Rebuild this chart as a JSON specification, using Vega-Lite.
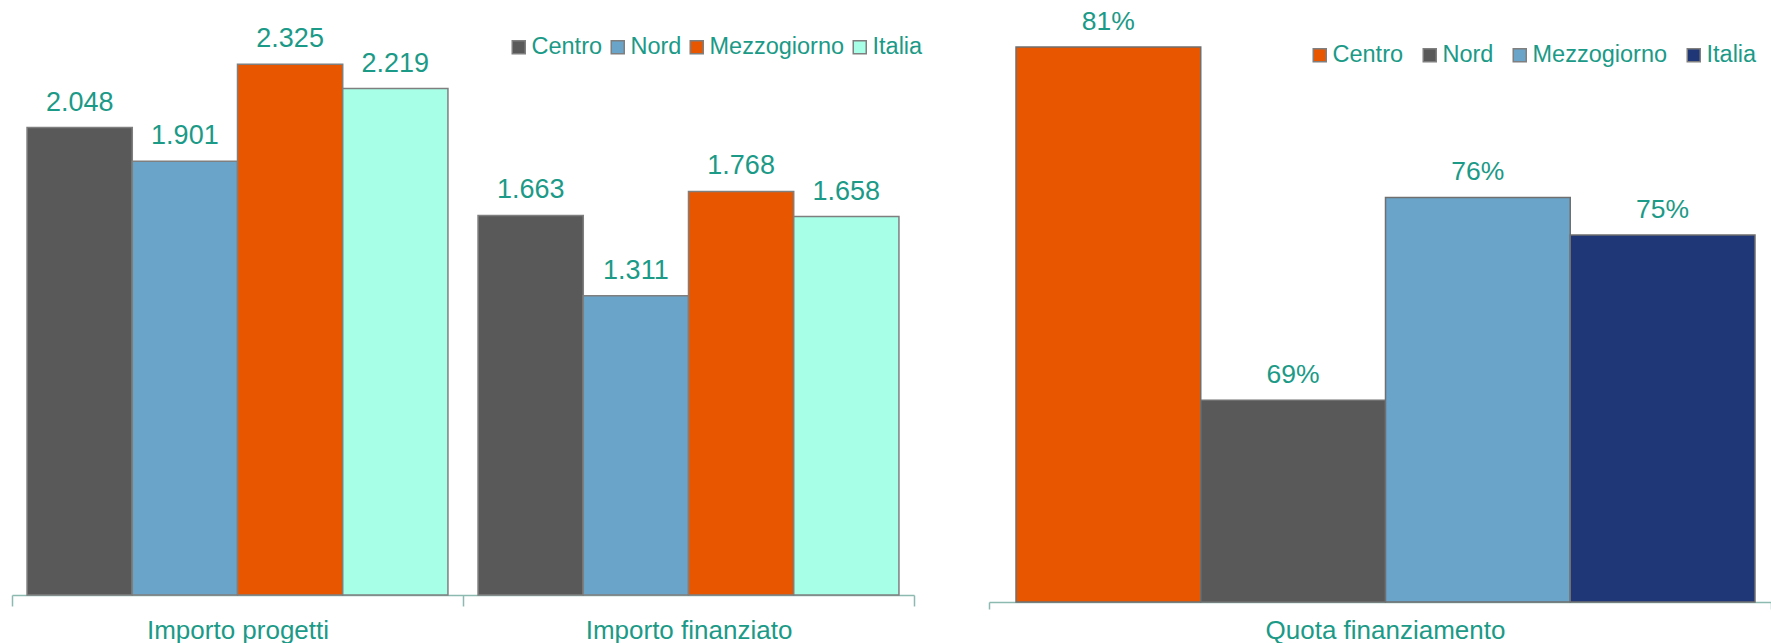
{
  "$schema": "https://vega.github.io/schema/vega-lite/v6.json",
  "background": "white",
  "padding": {"left": 11, "top": 0, "right": 0, "bottom": 0},
  "autosize": {"type": "pad"},
  "bounds": "flush",
  "spacing": 75,
  "config": {
    "view": {"stroke": null},
    "font": "Liberation Sans",
    "axis": {"grid": false},
    "legend": {"padding": 0}
  },
  "resolve": {
    "scale": {"color": "independent", "x": "independent", "y": "independent", "xOffset": "independent"},
    "legend": {"color": "independent"}
  },
  "hconcat": [
    {
      "width": 902,
      "height": 595,
      "data": {
        "values": [
          {"voce": "Importo progetti", "regione": "Centro", "valore": 2.048},
          {"voce": "Importo progetti", "regione": "Nord", "valore": 1.901},
          {"voce": "Importo progetti", "regione": "Mezzogiorno", "valore": 2.325},
          {"voce": "Importo progetti", "regione": "Italia", "valore": 2.219},
          {"voce": "Importo finanziato", "regione": "Centro", "valore": 1.663},
          {"voce": "Importo finanziato", "regione": "Nord", "valore": 1.311},
          {"voce": "Importo finanziato", "regione": "Mezzogiorno", "valore": 1.768},
          {"voce": "Importo finanziato", "regione": "Italia", "valore": 1.658}
        ]
      },
      "encoding": {
        "x": {
          "field": "voce", "type": "nominal",
          "sort": ["Importo progetti", "Importo finanziato"],
          "scale": {"paddingInner": 0, "paddingOuter": 0},
          "axis": {
            "title": null, "labelAngle": 0, "tickBand": "extent", "tickSize": 11, "labelPadding": 11, "labelLimit": 0,
            "domainColor": "#8DBAB0", "tickColor": "#8DBAB0", "domainWidth": 1.5, "tickWidth": 1.5,
            "labelColor": "#1B9A87", "labelFontSize": 26, "labelFont": "Liberation Sans"
          }
        },
        "xOffset": {
          "field": "regione", "type": "nominal",
          "sort": ["Centro", "Nord", "Mezzogiorno", "Italia"],
          "scale": {"paddingInner": 0, "paddingOuter": 0.143}
        },
        "y": {
          "field": "valore", "type": "quantitative",
          "scale": {"domain": [0, 2.607], "nice": false},
          "axis": null
        }
      },
      "layer": [
        {
          "mark": {"type": "bar", "stroke": "#7F7F7F", "strokeWidth": 1.5},
          "encoding": {
            "color": {
              "field": "regione", "type": "nominal",
              "scale": {"domain": ["Centro", "Nord", "Mezzogiorno", "Italia"], "range": ["#595959", "#6AA4C8", "#E85600", "#A6FFE6"]},
              "legend": {
                "title": null, "orient": "none", "legendX": 495, "legendY": 35,
                "direction": "horizontal", "columns": 4, "columnPadding": 3,
                "symbolType": "square", "symbolSize": 169, "symbolStrokeColor": "#7F7F7F", "symbolStrokeWidth": 1.5,
                "symbolOpacity": 1, "labelOffset": 1, "labelLimit": 0,
                "labelFontSize": 23.5, "labelColor": "#1B9A87", "labelFont": "Liberation Sans"
              }
            }
          }
        },
        {
          "mark": {"type": "text", "baseline": "alphabetic", "dy": -17, "fontSize": 27, "color": "#1B9A87", "font": "Liberation Sans"},
          "encoding": {"text": {"field": "valore", "type": "quantitative", "format": ".3f"}}
        }
      ]
    },
    {
      "width": 782,
      "height": 602,
      "data": {
        "values": [
          {"voce": "Quota finanziamento", "regione": "Centro", "quota": 0.812},
          {"voce": "Quota finanziamento", "regione": "Nord", "quota": 0.690},
          {"voce": "Quota finanziamento", "regione": "Mezzogiorno", "quota": 0.760},
          {"voce": "Quota finanziamento", "regione": "Italia", "quota": 0.747}
        ]
      },
      "encoding": {
        "x": {
          "field": "voce", "type": "nominal",
          "scale": {"paddingInner": 0, "paddingOuter": 0},
          "axis": {
            "title": null, "labelAngle": 0, "tickBand": "extent", "tickSize": 7, "labelPadding": 8, "labelOffset": 5, "labelLimit": 0,
            "domainColor": "#8DBAB0", "tickColor": "#8DBAB0", "domainWidth": 1.5, "tickWidth": 1.5,
            "labelColor": "#1B9A87", "labelFontSize": 26, "labelFont": "Liberation Sans"
          }
        },
        "xOffset": {
          "field": "regione", "type": "nominal",
          "sort": ["Centro", "Nord", "Mezzogiorno", "Italia"],
          "scale": {"paddingInner": 0, "paddingOuter": 0.1164, "align": 0.628}
        },
        "y": {
          "field": "quota", "type": "quantitative",
          "scale": {"domain": [0.6203, 0.8282], "nice": false, "zero": false},
          "axis": null
        }
      },
      "layer": [
        {
          "mark": {"type": "bar", "stroke": "#6F6F6F", "strokeWidth": 1.5},
          "encoding": {
            "y2": {"datum": 0.6203},
            "color": {
              "field": "regione", "type": "nominal",
              "scale": {"domain": ["Centro", "Nord", "Mezzogiorno", "Italia"], "range": ["#E85600", "#595959", "#6AA4C8", "#1F3677"]},
              "legend": {
                "title": null, "orient": "none", "legendX": 319, "legendY": 43,
                "direction": "horizontal", "columns": 4, "columnPadding": 14,
                "symbolType": "square", "symbolSize": 169, "symbolStrokeColor": "#7F7F7F", "symbolStrokeWidth": 1.5,
                "symbolOpacity": 1, "labelOffset": 1, "labelLimit": 0,
                "labelFontSize": 23.5, "labelColor": "#1B9A87", "labelFont": "Liberation Sans"
              }
            }
          }
        },
        {
          "mark": {"type": "text", "baseline": "alphabetic", "dy": -17, "fontSize": 26.5, "color": "#1B9A87", "font": "Liberation Sans"},
          "encoding": {"text": {"field": "quota", "type": "quantitative", "format": ".0%"}}
        }
      ]
    }
  ]
}
